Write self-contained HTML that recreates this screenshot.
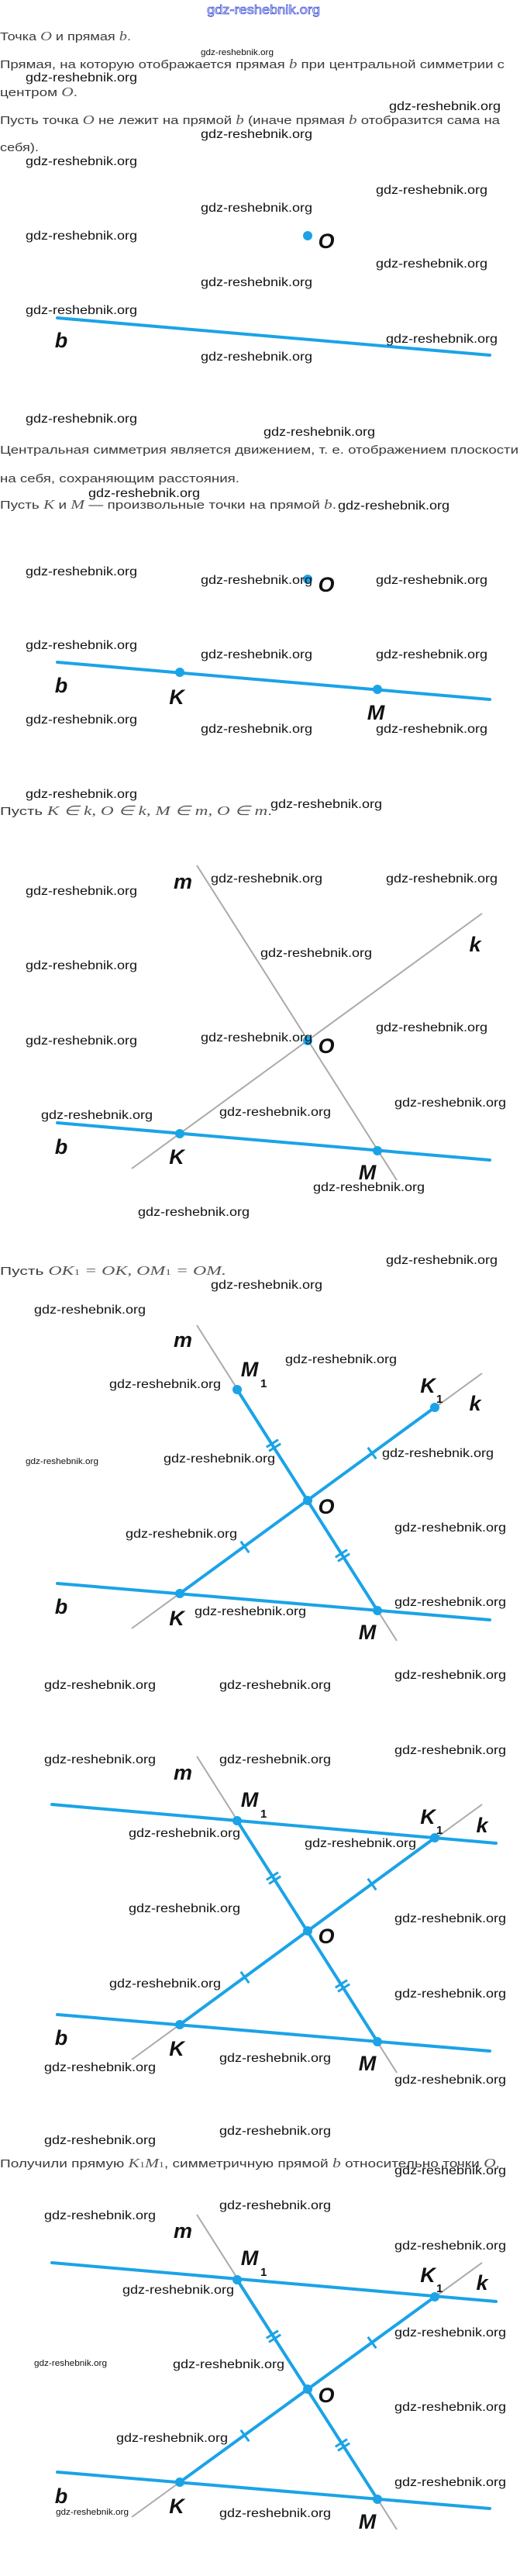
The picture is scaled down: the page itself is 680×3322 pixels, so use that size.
<!DOCTYPE html>
<html><head><meta charset="utf-8"><style>
html,body{margin:0;padding:0;background:#fff;}
svg{display:block;}
.t{font-family:"Liberation Sans",sans-serif;font-size:15px;fill:#3a3a3a;}
.v{font-family:"Liberation Serif",serif;font-style:italic;font-size:17px;fill:#555;}
.w{font-family:"Liberation Sans",sans-serif;font-size:16px;fill:#111;}
.ws{font-family:"Liberation Sans",sans-serif;font-size:11px;fill:#111;}
.L{font-family:"Liberation Sans",sans-serif;font-style:italic;font-weight:bold;font-size:27px;fill:#111;text-anchor:middle;}
.s{font-family:"Liberation Sans",sans-serif;font-weight:bold;font-size:15px;fill:#111;}
.bl{stroke:#1ba3e6;stroke-width:4;stroke-linecap:round;fill:none;}
.gr{stroke:#aaa;stroke-width:2;fill:none;}
.dt{fill:#1ba3e6;}
.tk{stroke:#1ba3e6;stroke-width:3;}
</style></head><body>
<svg width="680" height="3322" viewBox="0 0 680 3322" xmlns="http://www.w3.org/2000/svg">
<!-- header -->
<text x="340" y="18" text-anchor="middle" font-family="Liberation Sans, sans-serif" font-size="17" fill="#fff" stroke="#3d4fd6" stroke-width="0.8" textLength="146" lengthAdjust="spacingAndGlyphs">gdz-reshebnik.org</text>

<!-- texts -->
<text class="t" x="0" y="52" textLength="169" lengthAdjust="spacingAndGlyphs">Точка <tspan class="v">O</tspan> и прямая <tspan class="v">b</tspan>.</text>
<text class="t" x="0" y="88" textLength="651" lengthAdjust="spacingAndGlyphs">Прямая, на которую отображается прямая <tspan class="v">b</tspan> при центральной симметрии с</text>
<text class="t" x="0" y="124" textLength="100" lengthAdjust="spacingAndGlyphs">центром <tspan class="v">O</tspan>.</text>
<text class="t" x="0" y="160" textLength="645" lengthAdjust="spacingAndGlyphs">Пусть точка <tspan class="v">O</tspan> не лежит на прямой <tspan class="v">b</tspan> (иначе прямая <tspan class="v">b</tspan> отобразится сама на</text>
<text class="t" x="0" y="195" textLength="50" lengthAdjust="spacingAndGlyphs">себя).</text>
<text class="t" x="0" y="585" textLength="669" lengthAdjust="spacingAndGlyphs">Центральная симметрия является движением, т. е. отображением плоскости</text>
<text class="t" x="0" y="622" textLength="309" lengthAdjust="spacingAndGlyphs">на себя, сохраняющим расстояния.</text>
<text class="t" x="0" y="656" textLength="434" lengthAdjust="spacingAndGlyphs">Пусть <tspan class="v">K</tspan> и <tspan class="v">M</tspan> — произвольные точки на прямой <tspan class="v">b</tspan>.</text>
<text class="t" x="0" y="1051" textLength="351" lengthAdjust="spacingAndGlyphs">Пусть <tspan class="v">K ∈ k,  O ∈ k,  M ∈ m,  O ∈ m</tspan>.</text>
<text class="t" x="0" y="1644" textLength="292" lengthAdjust="spacingAndGlyphs">Пусть <tspan class="v">OK<tspan font-size="11" font-style="normal">1</tspan> = OK, OM<tspan font-size="11" font-style="normal">1</tspan> = OM.</tspan></text>
<text class="t" x="0" y="2795" textLength="645" lengthAdjust="spacingAndGlyphs">Получили прямую <tspan class="v">K<tspan font-size="11" font-style="normal">1</tspan>M<tspan font-size="11" font-style="normal">1</tspan></tspan>, симметричную прямой <tspan class="v">b</tspan> относительно точки <tspan class="v">O</tspan>.</text>

<!-- diagram 1 -->
<line class="bl" x1="74" y1="410" x2="632" y2="458"/>
<circle class="dt" cx="397" cy="304" r="6"/>
<text class="L" x="421" y="320">O</text>
<text class="L" x="79" y="448">b</text>

<!-- diagram 2 -->
<line class="bl" x1="74" y1="854" x2="632" y2="902"/>
<circle class="dt" cx="397" cy="747" r="6"/>
<circle class="dt" cx="232" cy="867" r="6"/>
<circle class="dt" cx="487" cy="889" r="6"/>
<text class="L" x="421" y="763">O</text>
<text class="L" x="79" y="893">b</text>
<text class="L" x="228" y="908">K</text>
<text class="L" x="485" y="928">M</text>

<!-- diagram 3 -->
<line class="gr" x1="254" y1="1116" x2="512" y2="1522"/>
<line class="gr" x1="622" y1="1178" x2="170" y2="1507"/>
<line class="bl" x1="74" y1="1448" x2="632" y2="1496"/>
<circle class="dt" cx="397" cy="1342" r="6"/>
<circle class="dt" cx="232" cy="1462" r="6"/>
<circle class="dt" cx="487" cy="1484" r="6"/>
<text class="L" x="236" y="1146">m</text>
<text class="L" x="613" y="1227">k</text>
<text class="L" x="421" y="1358">O</text>
<text class="L" x="79" y="1488">b</text>
<text class="L" x="228" y="1501">K</text>
<text class="L" x="474" y="1521">M</text>

<!-- diagram 4 -->
<line class="gr" x1="254" y1="1709" x2="512" y2="2116"/>
<line class="gr" x1="622" y1="1771" x2="170" y2="2100"/>
<line class="bl" x1="74" y1="2042" x2="632" y2="2089"/>
<line class="bl" x1="306" y1="1792" x2="487" y2="2077"/>
<line class="bl" x1="561" y1="1815" x2="232" y2="2055"/>
<circle class="dt" cx="306" cy="1792" r="6"/>
<circle class="dt" cx="561" cy="1815" r="6"/>
<circle class="dt" cx="397" cy="1935" r="6"/>
<circle class="dt" cx="232" cy="2055" r="6"/>
<circle class="dt" cx="487" cy="2077" r="6"/>
<g transform="translate(353,1864) rotate(-32.4)"><line class="tk" x1="-9" y1="-3" x2="9" y2="-3"/><line class="tk" x1="-9" y1="3" x2="9" y2="3"/></g>
<g transform="translate(442,2006) rotate(-32.4)"><line class="tk" x1="-9" y1="-3" x2="9" y2="-3"/><line class="tk" x1="-9" y1="3" x2="9" y2="3"/></g>
<g transform="translate(480,1874) rotate(53.9)"><line class="tk" x1="-9" y1="0" x2="9" y2="0"/></g>
<g transform="translate(316,1995) rotate(53.9)"><line class="tk" x1="-9" y1="0" x2="9" y2="0"/></g>
<text class="L" x="236" y="1737">m</text>
<text class="L" x="322" y="1775">M</text><text class="s" x="336" y="1789">1</text>
<text class="L" x="552" y="1796">K</text><text class="s" x="563" y="1809">1</text>
<text class="L" x="613" y="1819">k</text>
<text class="L" x="421" y="1952">O</text>
<text class="L" x="79" y="2081">b</text>
<text class="L" x="228" y="2096">K</text>
<text class="L" x="474" y="2114">M</text>

<!-- diagram 5 -->
<line class="gr" x1="254" y1="2265" x2="512" y2="2673"/>
<line class="gr" x1="622" y1="2327" x2="170" y2="2656"/>
<line class="bl" x1="67" y1="2327" x2="640" y2="2377"/>
<line class="bl" x1="74" y1="2598" x2="632" y2="2645"/>
<line class="bl" x1="306" y1="2348" x2="487" y2="2633"/>
<line class="bl" x1="561" y1="2370" x2="232" y2="2611"/>
<circle class="dt" cx="306" cy="2348" r="6"/>
<circle class="dt" cx="561" cy="2370" r="6"/>
<circle class="dt" cx="397" cy="2490" r="6"/>
<circle class="dt" cx="232" cy="2611" r="6"/>
<circle class="dt" cx="487" cy="2633" r="6"/>
<g transform="translate(353,2422) rotate(-32.4)"><line class="tk" x1="-9" y1="-3" x2="9" y2="-3"/><line class="tk" x1="-9" y1="3" x2="9" y2="3"/></g>
<g transform="translate(442,2561) rotate(-32.4)"><line class="tk" x1="-9" y1="-3" x2="9" y2="-3"/><line class="tk" x1="-9" y1="3" x2="9" y2="3"/></g>
<g transform="translate(480,2430) rotate(53.9)"><line class="tk" x1="-9" y1="0" x2="9" y2="0"/></g>
<g transform="translate(316,2550) rotate(53.9)"><line class="tk" x1="-9" y1="0" x2="9" y2="0"/></g>
<text class="L" x="236" y="2295">m</text>
<text class="L" x="322" y="2330">M</text><text class="s" x="336" y="2344">1</text>
<text class="L" x="552" y="2352">K</text><text class="s" x="563" y="2365">1</text>
<text class="L" x="622" y="2363">k</text>
<text class="L" x="421" y="2506">O</text>
<text class="L" x="79" y="2637">b</text>
<text class="L" x="228" y="2651">K</text>
<text class="L" x="474" y="2670">M</text>

<!-- diagram 6 -->
<line class="gr" x1="254" y1="2856" x2="512" y2="3262"/>
<line class="gr" x1="622" y1="2918" x2="170" y2="3246"/>
<line class="bl" x1="67" y1="2918" x2="640" y2="2968"/>
<line class="bl" x1="74" y1="3188" x2="632" y2="3235"/>
<line class="bl" x1="306" y1="2940" x2="487" y2="3223"/>
<line class="bl" x1="561" y1="2962" x2="232" y2="3201"/>
<circle class="dt" cx="306" cy="2940" r="6"/>
<circle class="dt" cx="561" cy="2962" r="6"/>
<circle class="dt" cx="397" cy="3081" r="6"/>
<circle class="dt" cx="232" cy="3201" r="6"/>
<circle class="dt" cx="487" cy="3223" r="6"/>
<g transform="translate(353,3013) rotate(-32.4)"><line class="tk" x1="-9" y1="-3" x2="9" y2="-3"/><line class="tk" x1="-9" y1="3" x2="9" y2="3"/></g>
<g transform="translate(442,3153) rotate(-32.4)"><line class="tk" x1="-9" y1="-3" x2="9" y2="-3"/><line class="tk" x1="-9" y1="3" x2="9" y2="3"/></g>
<g transform="translate(480,3021) rotate(53.9)"><line class="tk" x1="-9" y1="0" x2="9" y2="0"/></g>
<g transform="translate(316,3141) rotate(53.9)"><line class="tk" x1="-9" y1="0" x2="9" y2="0"/></g>
<text class="L" x="236" y="2886">m</text>
<text class="L" x="322" y="2921">M</text><text class="s" x="336" y="2935">1</text>
<text class="L" x="552" y="2943">K</text><text class="s" x="563" y="2956">1</text>
<text class="L" x="622" y="2953">k</text>
<text class="L" x="421" y="3098">O</text>
<text class="L" x="79" y="3228">b</text>
<text class="L" x="228" y="3241">K</text>
<text class="L" x="474" y="3261">M</text>

<!-- watermarks -->
<g>
<text class="ws" x="259" y="71" textLength="94" lengthAdjust="spacingAndGlyphs">gdz-reshebnik.org</text>
<text class="ws" x="33" y="1888" textLength="94" lengthAdjust="spacingAndGlyphs">gdz-reshebnik.org</text>
<text class="ws" x="44" y="3051" textLength="94" lengthAdjust="spacingAndGlyphs">gdz-reshebnik.org</text>
<text class="ws" x="72" y="3243" textLength="94" lengthAdjust="spacingAndGlyphs">gdz-reshebnik.org</text>
</g>
<g class="w">
<text x="33" y="105" textLength="144" lengthAdjust="spacingAndGlyphs">gdz-reshebnik.org</text>
<text x="502" y="142" textLength="144" lengthAdjust="spacingAndGlyphs">gdz-reshebnik.org</text>
<text x="259" y="178" textLength="144" lengthAdjust="spacingAndGlyphs">gdz-reshebnik.org</text>
<text x="33" y="213" textLength="144" lengthAdjust="spacingAndGlyphs">gdz-reshebnik.org</text>
<text x="485" y="250" textLength="144" lengthAdjust="spacingAndGlyphs">gdz-reshebnik.org</text>
<text x="259" y="273" textLength="144" lengthAdjust="spacingAndGlyphs">gdz-reshebnik.org</text>
<text x="33" y="309" textLength="144" lengthAdjust="spacingAndGlyphs">gdz-reshebnik.org</text>
<text x="485" y="345" textLength="144" lengthAdjust="spacingAndGlyphs">gdz-reshebnik.org</text>
<text x="259" y="369" textLength="144" lengthAdjust="spacingAndGlyphs">gdz-reshebnik.org</text>
<text x="33" y="405" textLength="144" lengthAdjust="spacingAndGlyphs">gdz-reshebnik.org</text>
<text x="498" y="442" textLength="144" lengthAdjust="spacingAndGlyphs">gdz-reshebnik.org</text>
<text x="259" y="465" textLength="144" lengthAdjust="spacingAndGlyphs">gdz-reshebnik.org</text>

<text x="33" y="545" textLength="144" lengthAdjust="spacingAndGlyphs">gdz-reshebnik.org</text>
<text x="340" y="562" textLength="144" lengthAdjust="spacingAndGlyphs">gdz-reshebnik.org</text>
<text x="114" y="641" textLength="144" lengthAdjust="spacingAndGlyphs">gdz-reshebnik.org</text>
<text x="436" y="657" textLength="144" lengthAdjust="spacingAndGlyphs">gdz-reshebnik.org</text>
<text x="33" y="742" textLength="144" lengthAdjust="spacingAndGlyphs">gdz-reshebnik.org</text>
<text x="259" y="753" textLength="144" lengthAdjust="spacingAndGlyphs">gdz-reshebnik.org</text>
<text x="485" y="753" textLength="144" lengthAdjust="spacingAndGlyphs">gdz-reshebnik.org</text>
<text x="33" y="837" textLength="144" lengthAdjust="spacingAndGlyphs">gdz-reshebnik.org</text>
<text x="259" y="849" textLength="144" lengthAdjust="spacingAndGlyphs">gdz-reshebnik.org</text>
<text x="485" y="849" textLength="144" lengthAdjust="spacingAndGlyphs">gdz-reshebnik.org</text>
<text x="33" y="933" textLength="144" lengthAdjust="spacingAndGlyphs">gdz-reshebnik.org</text>
<text x="259" y="945" textLength="144" lengthAdjust="spacingAndGlyphs">gdz-reshebnik.org</text>
<text x="485" y="945" textLength="144" lengthAdjust="spacingAndGlyphs">gdz-reshebnik.org</text>

<text x="33" y="1029" textLength="144" lengthAdjust="spacingAndGlyphs">gdz-reshebnik.org</text>
<text x="349" y="1042" textLength="144" lengthAdjust="spacingAndGlyphs">gdz-reshebnik.org</text>
<text x="272" y="1138" textLength="144" lengthAdjust="spacingAndGlyphs">gdz-reshebnik.org</text>
<text x="498" y="1138" textLength="144" lengthAdjust="spacingAndGlyphs">gdz-reshebnik.org</text>
<text x="33" y="1154" textLength="144" lengthAdjust="spacingAndGlyphs">gdz-reshebnik.org</text>
<text x="336" y="1234" textLength="144" lengthAdjust="spacingAndGlyphs">gdz-reshebnik.org</text>
<text x="33" y="1250" textLength="144" lengthAdjust="spacingAndGlyphs">gdz-reshebnik.org</text>
<text x="485" y="1330" textLength="144" lengthAdjust="spacingAndGlyphs">gdz-reshebnik.org</text>
<text x="259" y="1343" textLength="144" lengthAdjust="spacingAndGlyphs">gdz-reshebnik.org</text>
<text x="33" y="1347" textLength="144" lengthAdjust="spacingAndGlyphs">gdz-reshebnik.org</text>
<text x="509" y="1427" textLength="144" lengthAdjust="spacingAndGlyphs">gdz-reshebnik.org</text>
<text x="283" y="1439" textLength="144" lengthAdjust="spacingAndGlyphs">gdz-reshebnik.org</text>
<text x="53" y="1443" textLength="144" lengthAdjust="spacingAndGlyphs">gdz-reshebnik.org</text>
<text x="404" y="1536" textLength="144" lengthAdjust="spacingAndGlyphs">gdz-reshebnik.org</text>
<text x="178" y="1568" textLength="144" lengthAdjust="spacingAndGlyphs">gdz-reshebnik.org</text>

<text x="498" y="1630" textLength="144" lengthAdjust="spacingAndGlyphs">gdz-reshebnik.org</text>
<text x="272" y="1662" textLength="144" lengthAdjust="spacingAndGlyphs">gdz-reshebnik.org</text>
<text x="44" y="1694" textLength="144" lengthAdjust="spacingAndGlyphs">gdz-reshebnik.org</text>
<text x="368" y="1758" textLength="144" lengthAdjust="spacingAndGlyphs">gdz-reshebnik.org</text>
<text x="141" y="1790" textLength="144" lengthAdjust="spacingAndGlyphs">gdz-reshebnik.org</text>
<text x="493" y="1879" textLength="144" lengthAdjust="spacingAndGlyphs">gdz-reshebnik.org</text>
<text x="211" y="1886" textLength="144" lengthAdjust="spacingAndGlyphs">gdz-reshebnik.org</text>
<text x="509" y="1975" textLength="144" lengthAdjust="spacingAndGlyphs">gdz-reshebnik.org</text>
<text x="162" y="1983" textLength="144" lengthAdjust="spacingAndGlyphs">gdz-reshebnik.org</text>
<text x="509" y="2071" textLength="144" lengthAdjust="spacingAndGlyphs">gdz-reshebnik.org</text>
<text x="251" y="2083" textLength="144" lengthAdjust="spacingAndGlyphs">gdz-reshebnik.org</text>
<text x="509" y="2165" textLength="144" lengthAdjust="spacingAndGlyphs">gdz-reshebnik.org</text>

<text x="57" y="2178" textLength="144" lengthAdjust="spacingAndGlyphs">gdz-reshebnik.org</text>
<text x="283" y="2178" textLength="144" lengthAdjust="spacingAndGlyphs">gdz-reshebnik.org</text>
<text x="57" y="2274" textLength="144" lengthAdjust="spacingAndGlyphs">gdz-reshebnik.org</text>
<text x="283" y="2274" textLength="144" lengthAdjust="spacingAndGlyphs">gdz-reshebnik.org</text>
<text x="509" y="2262" textLength="144" lengthAdjust="spacingAndGlyphs">gdz-reshebnik.org</text>
<text x="166" y="2369" textLength="144" lengthAdjust="spacingAndGlyphs">gdz-reshebnik.org</text>
<text x="393" y="2382" textLength="144" lengthAdjust="spacingAndGlyphs">gdz-reshebnik.org</text>
<text x="166" y="2466" textLength="144" lengthAdjust="spacingAndGlyphs">gdz-reshebnik.org</text>
<text x="509" y="2479" textLength="144" lengthAdjust="spacingAndGlyphs">gdz-reshebnik.org</text>
<text x="141" y="2563" textLength="144" lengthAdjust="spacingAndGlyphs">gdz-reshebnik.org</text>
<text x="509" y="2576" textLength="144" lengthAdjust="spacingAndGlyphs">gdz-reshebnik.org</text>
<text x="283" y="2659" textLength="144" lengthAdjust="spacingAndGlyphs">gdz-reshebnik.org</text>
<text x="57" y="2671" textLength="144" lengthAdjust="spacingAndGlyphs">gdz-reshebnik.org</text>
<text x="509" y="2687" textLength="144" lengthAdjust="spacingAndGlyphs">gdz-reshebnik.org</text>

<text x="283" y="2753" textLength="144" lengthAdjust="spacingAndGlyphs">gdz-reshebnik.org</text>
<text x="57" y="2765" textLength="144" lengthAdjust="spacingAndGlyphs">gdz-reshebnik.org</text>
<text x="509" y="2804" textLength="144" lengthAdjust="spacingAndGlyphs">gdz-reshebnik.org</text>
<text x="283" y="2849" textLength="144" lengthAdjust="spacingAndGlyphs">gdz-reshebnik.org</text>
<text x="57" y="2862" textLength="144" lengthAdjust="spacingAndGlyphs">gdz-reshebnik.org</text>
<text x="509" y="2901" textLength="144" lengthAdjust="spacingAndGlyphs">gdz-reshebnik.org</text>
<text x="158" y="2958" textLength="144" lengthAdjust="spacingAndGlyphs">gdz-reshebnik.org</text>
<text x="509" y="3013" textLength="144" lengthAdjust="spacingAndGlyphs">gdz-reshebnik.org</text>
<text x="223" y="3054" textLength="144" lengthAdjust="spacingAndGlyphs">gdz-reshebnik.org</text>
<text x="509" y="3109" textLength="144" lengthAdjust="spacingAndGlyphs">gdz-reshebnik.org</text>
<text x="150" y="3149" textLength="144" lengthAdjust="spacingAndGlyphs">gdz-reshebnik.org</text>
<text x="509" y="3206" textLength="144" lengthAdjust="spacingAndGlyphs">gdz-reshebnik.org</text>
<text x="283" y="3246" textLength="144" lengthAdjust="spacingAndGlyphs">gdz-reshebnik.org</text>
</g>
</svg>
</body></html>
